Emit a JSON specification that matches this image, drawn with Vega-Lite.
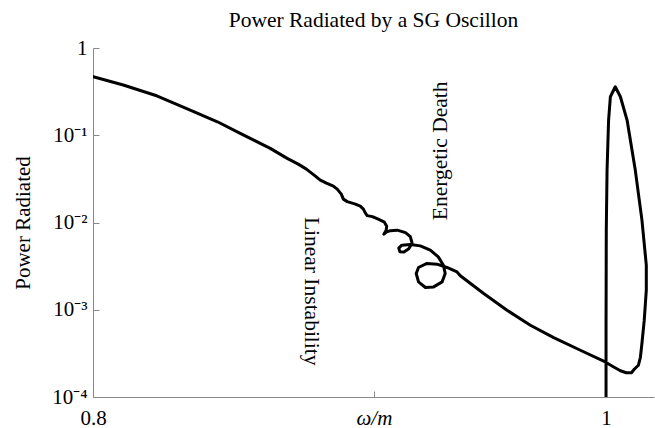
{
  "$schema": "https://vega.github.io/schema/vega-lite/v6.json",
  "width": 561,
  "height": 349,
  "autosize": {"type": "none"},
  "padding": {"left": 93, "top": 48, "right": 1, "bottom": 31},
  "background": "white",
  "title": {"text": "Power Radiated by a SG Oscillon", "frame": "group", "anchor": "middle", "font": "Liberation Serif", "fontSize": 21.5, "fontWeight": "normal", "color": "black", "baseline": "alphabetic", "offset": -11.5},
  "config": {"view": {"stroke": null}},
  "datasets": {
    "curve": [
      {"i": 1, "w": 0.8001, "p": 0.4686},
      {"i": 2, "w": 0.8118, "p": 0.3763},
      {"i": 3, "w": 0.8251, "p": 0.2814},
      {"i": 4, "w": 0.8379, "p": 0.1944},
      {"i": 5, "w": 0.8485, "p": 0.1427},
      {"i": 6, "w": 0.8574, "p": 0.1051},
      {"i": 7, "w": 0.8691, "p": 0.0707},
      {"i": 8, "w": 0.8757, "p": 0.05428},
      {"i": 9, "w": 0.88, "p": 0.0467},
      {"i": 10, "w": 0.8832, "p": 0.04093},
      {"i": 11, "w": 0.8867, "p": 0.03401},
      {"i": 12, "w": 0.8886, "p": 0.0306},
      {"i": 13, "w": 0.891, "p": 0.02828},
      {"i": 14, "w": 0.8937, "p": 0.02612},
      {"i": 15, "w": 0.8952, "p": 0.02414},
      {"i": 16, "w": 0.8968, "p": 0.02114},
      {"i": 17, "w": 0.8976, "p": 0.01853},
      {"i": 18, "w": 0.8991, "p": 0.01735},
      {"i": 19, "w": 0.9023, "p": 0.01624},
      {"i": 20, "w": 0.9042, "p": 0.0154},
      {"i": 21, "w": 0.9054, "p": 0.01423},
      {"i": 22, "w": 0.9062, "p": 0.0128},
      {"i": 23, "w": 0.9069, "p": 0.01199},
      {"i": 24, "w": 0.9089, "p": 0.01167},
      {"i": 25, "w": 0.9112, "p": 0.01092},
      {"i": 26, "w": 0.9136, "p": 0.01009},
      {"i": 27, "w": 0.9145, "p": 0.009082},
      {"i": 28, "w": 0.9143, "p": 0.008173},
      {"i": 29, "w": 0.9134, "p": 0.007352},
      {"i": 30, "w": 0.9143, "p": 0.007751},
      {"i": 31, "w": 0.9159, "p": 0.008061},
      {"i": 32, "w": 0.9186, "p": 0.008173},
      {"i": 33, "w": 0.9218, "p": 0.007649},
      {"i": 34, "w": 0.9237, "p": 0.006882},
      {"i": 35, "w": 0.9244, "p": 0.005797},
      {"i": 36, "w": 0.9231, "p": 0.005012},
      {"i": 37, "w": 0.9212, "p": 0.004605},
      {"i": 38, "w": 0.9196, "p": 0.00463},
      {"i": 39, "w": 0.9192, "p": 0.005079},
      {"i": 40, "w": 0.9204, "p": 0.005497},
      {"i": 41, "w": 0.9237, "p": 0.0056},
      {"i": 42, "w": 0.9276, "p": 0.005397},
      {"i": 43, "w": 0.9315, "p": 0.004818},
      {"i": 44, "w": 0.9346, "p": 0.004036},
      {"i": 45, "w": 0.9366, "p": 0.003242},
      {"i": 46, "w": 0.9373, "p": 0.002603},
      {"i": 47, "w": 0.9361, "p": 0.002086},
      {"i": 48, "w": 0.9328, "p": 0.001827},
      {"i": 49, "w": 0.9296, "p": 0.001799},
      {"i": 50, "w": 0.9269, "p": 0.002086},
      {"i": 51, "w": 0.926, "p": 0.002603},
      {"i": 52, "w": 0.9269, "p": 0.003051},
      {"i": 53, "w": 0.9302, "p": 0.003391},
      {"i": 54, "w": 0.9341, "p": 0.003329},
      {"i": 55, "w": 0.938, "p": 0.003051},
      {"i": 56, "w": 0.9419, "p": 0.002716},
      {"i": 57, "w": 0.9432, "p": 0.002457},
      {"i": 58, "w": 0.9523, "p": 0.001535},
      {"i": 59, "w": 0.9614, "p": 0.0009876},
      {"i": 60, "w": 0.9705, "p": 0.0006646},
      {"i": 61, "w": 0.9796, "p": 0.0004801},
      {"i": 62, "w": 0.99, "p": 0.0003434},
      {"i": 63, "w": 0.9997, "p": 0.000252},
      {"i": 64, "w": 1.003, "p": 0.0002209},
      {"i": 65, "w": 1.0056, "p": 0.0001998},
      {"i": 66, "w": 1.0079, "p": 0.0001895},
      {"i": 67, "w": 1.0099, "p": 0.0001895},
      {"i": 68, "w": 1.011, "p": 0.0002079},
      {"i": 69, "w": 1.0126, "p": 0.000231},
      {"i": 70, "w": 1.0134, "p": 0.0002852},
      {"i": 71, "w": 1.014, "p": 0.000413},
      {"i": 72, "w": 1.0149, "p": 0.0007585},
      {"i": 73, "w": 1.0157, "p": 0.001675},
      {"i": 74, "w": 1.0157, "p": 0.003242},
      {"i": 75, "w": 1.014, "p": 0.01064},
      {"i": 76, "w": 1.0114, "p": 0.03987},
      {"i": 77, "w": 1.0082, "p": 0.1493},
      {"i": 78, "w": 1.0056, "p": 0.2763},
      {"i": 79, "w": 1.0036, "p": 0.3598},
      {"i": 80, "w": 1.0017, "p": 0.2763},
      {"i": 81, "w": 1.001, "p": 0.1493},
      {"i": 82, "w": 1.0004, "p": 0.03987},
      {"i": 83, "w": 1.0001, "p": 0.008173},
      {"i": 84, "w": 1.0, "p": 0.0005823},
      {"i": 85, "w": 1.0, "p": 0.00005}
    ],
    "markers": [{"w": 0.88}, {"w": 0.94}],
    "frame": [{"p": 1}],
    "lin": [{"w": 0.8808, "p": 0.0116, "label": "Linear Instability"}],
    "ene": [{"w": 0.9398, "p": 0.01064, "label": "Energetic Death"}]
  },
  "encoding": {
    "x": {
      "field": "w", "type": "quantitative",
      "scale": {"domain": [0.8, 1.0187], "nice": false, "zero": false},
      "axis": {
        "title": null,
        "values": [0.8, 0.9095, 1],
        "labelExpr": "datum.value < 0.85 ? '0.8' : (datum.value > 0.95 ? '1' : 'ω/m')",
        "labelFontStyle": {"condition": {"test": "datum.value > 0.85 && datum.value < 0.95", "value": "italic"}, "value": "normal"},
        "labelFont": "Liberation Serif", "labelFontSize": 21, "labelColor": "black",
        "labelFlush": false, "labelOverlap": false, "labelPadding": 16,
        "tickSize": -6, "tickColor": "#888888", "domainColor": "#888888", "grid": false
      }
    },
    "y": {
      "field": "p", "type": "quantitative",
      "scale": {"type": "log", "domain": [0.0001, 1], "nice": false},
      "axis": {
        "title": "Power Radiated",
        "titleFont": "Liberation Serif", "titleFontSize": 21, "titleFontWeight": "normal", "titleColor": "black",
        "titleX": -64, "titleY": 174.5, "titleAngle": 270, "titleAlign": "center", "titleBaseline": "alphabetic",
        "values": [0.0001, 0.001, 0.01, 0.1, 1],
        "labelExpr": "datum.value >= 0.5 ? '1' : (datum.value >= 0.05 ? '10⁻¹' : (datum.value >= 0.005 ? '10⁻²' : (datum.value >= 0.0005 ? '10⁻³' : '10⁻⁴')))",
        "labelFont": "Liberation Serif", "labelFontSize": 21, "labelColor": "black",
        "labelFlush": false, "labelOverlap": false, "labelPadding": 12,
        "tickSize": -6, "tickColor": "#888888", "domainColor": "#888888", "grid": false
      }
    }
  },
  "layer": [
    {
      "data": {"name": "markers"},
      "mark": {"type": "rule", "color": "#dcdcdc", "strokeWidth": 1},
      "encoding": {
        "y": {"datum": 0.0001},
        "y2": {"datum": 1}
      }
    },
    {
      "data": {"name": "frame"},
      "mark": {"type": "rule", "color": "#888888", "strokeWidth": 1},
      "encoding": {
        "x": {"datum": 0.8},
        "x2": {"datum": 1.0187}
      }
    },
    {
      "data": {"name": "curve"},
      "mark": {"type": "line", "color": "black", "strokeWidth": 3, "clip": true, "strokeJoin": "round", "strokeCap": "round"},
      "encoding": {
        "order": {"field": "i", "type": "quantitative"}
      }
    },
    {
      "data": {"name": "lin"},
      "mark": {"type": "text", "angle": 90, "align": "left", "baseline": "bottom", "font": "Liberation Serif", "fontSize": 21.5, "color": "black"},
      "encoding": {
        "text": {"field": "label"}
      }
    },
    {
      "data": {"name": "ene"},
      "mark": {"type": "text", "angle": 270, "align": "left", "baseline": "bottom", "font": "Liberation Serif", "fontSize": 21.5, "color": "black"},
      "encoding": {
        "text": {"field": "label"}
      }
    }
  ]
}
